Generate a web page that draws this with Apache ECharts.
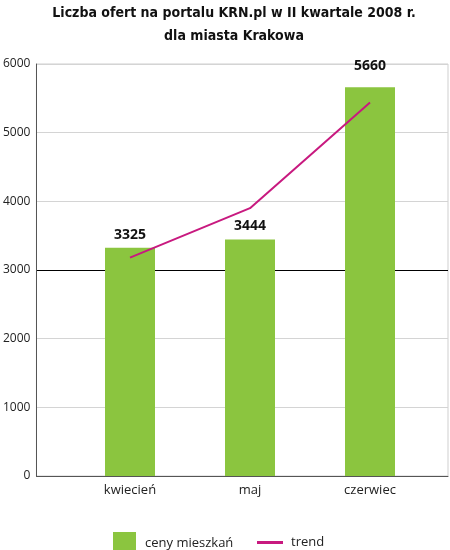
<!DOCTYPE html>
<html><head><meta charset="utf-8">
<script src="https://cdn.jsdelivr.net/npm/echarts@6/dist/echarts.min.js"></script>
<style>html,body{margin:0;padding:0;background:#fff}#c{width:450px;height:550px}</style>
</head><body><div id="c"></div>
<script>
const categories = ['kwiecień', 'maj', 'czerwiec'];
const offers = [3325, 3444, 5660];
const trend = [3180, 3900, 5440];
const yTicks = [0, 1000, 2000, 3000, 4000, 5000, 6000];

const chart = echarts.init(document.getElementById('c'), null, {renderer: 'canvas'});
const font = '"Open Sans", "Liberation Sans", sans-serif';
const splitColors = yTicks.map(v => v === 3000 ? '#000000' : '#d4d4d4');
chart.setOption({
  backgroundColor: '#fff',
  animation: false,
  title: {
    text: 'Liczba ofert na portalu KRN.pl w II kwartale 2008 r.\ndla miasta Krakowa',
    left: 229, textAlign: 'center', top: -3,
    textStyle: {fontFamily: '"DejaVu Sans Condensed", "Liberation Sans", sans-serif', fontWeight: 'bold', fontSize: 14, lineHeight: 23, color: '#111'}
  },
  legend: [
    {data: ['ceny mieszkań'], left: 108, top: 527, itemWidth: 23, itemHeight: 23, icon: 'rect', itemGap: 0,
     textStyle: {fontFamily: font, fontSize: 13, color: '#222', padding: [0, 0, 0, 4]}},
    {data: ['trend'], left: 252, top: 531, itemWidth: 26, itemHeight: 3, icon: 'rect',
     textStyle: {fontFamily: font, fontSize: 13, color: '#222', padding: [0, 0, 0, 3]}}
  ],
  grid: [
    {left: 36, right: 2, top: 64, bottom: 74, show: true, borderColor: '#cfcfcf', borderWidth: 1},
    {left: 70, right: 20, top: 64, bottom: 74}
  ],
  xAxis: [
    {type: 'value', gridIndex: 0, min: 0, max: 1, axisLabel: {show: false}, axisTick: {show: false}, splitLine: {show: false},
     axisLine: {show: true, onZero: false, lineStyle: {color: '#555', width: 1}}},
    {type: 'category', gridIndex: 1, data: categories, axisLine: {show: false}, axisTick: {show: false},
     axisLabel: {fontFamily: font, fontSize: 13, color: '#222', margin: 8}}
  ],
  yAxis: [
    {type: 'value', gridIndex: 0, min: 0, max: 6000, interval: 1000,
     axisLine: {show: true, onZero: false, lineStyle: {color: '#555', width: 1}}, axisTick: {show: false},
     axisLabel: {fontFamily: font, fontSize: 12, color: '#222', margin: 6, formatter: v => String(v)},
     splitLine: {show: true, lineStyle: {color: splitColors, width: 1}}},
    {type: 'value', gridIndex: 1, min: 0, max: 6000, interval: 1000, show: false, splitLine: {show: false}}
  ],
  series: [
    {name: 'ceny mieszkań', type: 'bar', xAxisIndex: 1, yAxisIndex: 1, barWidth: 50,
     itemStyle: {color: '#8bc53f'},
     data: offers.map((v, i) => ({value: v, label: {distance: i === 2 ? 14 : 6}})),
     label: {show: true, position: 'top', fontFamily: font, fontWeight: 'bold', fontSize: 14, color: '#111'}},
    {name: 'trend', type: 'line', xAxisIndex: 1, yAxisIndex: 1, data: trend, symbol: 'none', z: 5,
     lineStyle: {color: '#c8197f', width: 2}, itemStyle: {color: '#c8197f'}}
  ]
});
</script></body></html>
